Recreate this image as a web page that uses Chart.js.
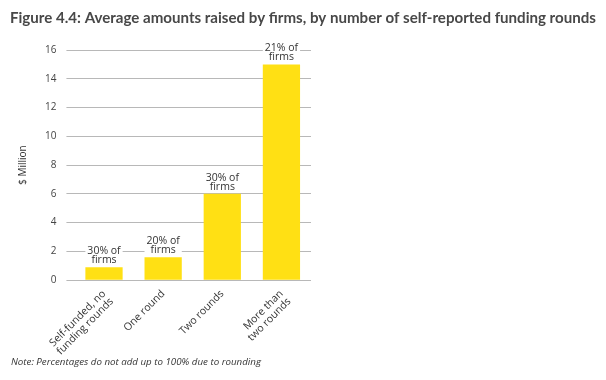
<!DOCTYPE html>
<html>
<head>
<meta charset="utf-8">
<script src="https://cdn.jsdelivr.net/npm/chart.js@4.4.0/dist/chart.umd.min.js"></script>
<style>
	html, body { margin: 0; padding: 0; background: #fff; }
	#wrap { width: 606px; height: 380px; position: relative; }
</style>
</head>
<body>
<div id="wrap"><canvas id="myChart"></canvas></div>
<script>
const categories = [
	['Self-funded, no', 'funding rounds'],
	'One round',
	'Two rounds',
	['More than', 'two rounds']
];
const amounts = [0.9, 1.6, 6, 15];
const shareLabels = ['30% of', '20% of', '30% of', '21% of'];
const yTicks = [0, 2, 4, 6, 8, 10, 12, 14, 16];
const titleText = 'Figure 4.4: Average amounts raised by firms, by number of self-reported funding rounds';
const noteText = 'Note: Percentages do not add up to 100% due to rounding';

const FONT = '"Open Sans", sans-serif';

// fit a line of text into a target width by adjusting the font size
function fitText(ctx, text, style, family, startSize, targetWidth) {
	ctx.font = style + ' ' + startSize + 'px ' + family;
	const w = ctx.measureText(text).width;
	const size = startSize * targetWidth / w;
	ctx.font = style + ' ' + size.toFixed(2) + 'px ' + family;
}

// title and footnote are drawn by hand so they can span the full canvas width
const headerFooterPlugin = {
	id: 'headerFooter',
	afterDraw(chart) {
		const ctx = chart.ctx;
		ctx.save();
		ctx.textAlign = 'left';
		ctx.textBaseline = 'middle';
		fitText(ctx, titleText, 'bold', 'Lato, sans-serif', 14, 586);
		ctx.fillStyle = '#484848';
		ctx.fillText(titleText, 10, 18);
		fitText(ctx, noteText, 'italic', FONT, 9, 250);
		ctx.fillStyle = '#333';
		ctx.fillText(noteText, 11, 362);
		ctx.restore();
	}
};

// draws the "xx% of / firms" text over each bar, on a white patch
const shareLabelPlugin = {
	id: 'shareLabels',
	afterDatasetsDraw(chart) {
		const ctx = chart.ctx;
		const meta = chart.getDatasetMeta(0);
		ctx.save();
		ctx.font = '10.5px ' + FONT;
		ctx.textAlign = 'center';
		ctx.textBaseline = 'alphabetic';
		meta.data.forEach((bar, i) => {
			const lines = [shareLabels[i], 'firms'];
			const w = ctx.measureText(lines[0]).width + 4;
			const x = bar.x;
			const bottom = bar.y - 1;
			ctx.fillStyle = '#fff';
			ctx.fillRect(x - w / 2, bottom - 22, w, 21);
			ctx.fillStyle = '#333';
			ctx.fillText(lines[0], x, bottom - 12);
			ctx.fillText(lines[1], x, bottom - 3);
		});
		ctx.restore();
	}
};

const config = {
	type: 'bar',
	data: {
		labels: categories,
		datasets: [{
			data: amounts,
			backgroundColor: '#ffe014',
			barPercentage: 0.63,
			categoryPercentage: 1
		}]
	},
	options: {
		responsive: true,
		maintainAspectRatio: false,
		animation: false,
		layout: {
			padding: { left: 13, right: 295, top: 50, bottom: 15 }
		},
		plugins: {
			legend: { display: false },
			tooltip: { enabled: false },
			title: { display: false }
		},
		scales: {
			x: {
				grid: { display: false, drawTicks: false },
				border: { display: false },
				ticks: {
					color: '#333',
					font: { family: FONT, size: 10.5, lineHeight: 1.05 },
					minRotation: 45,
					maxRotation: 45,
					padding: 8
				}
			},
			y: {
				min: 0,
				max: 16,
				afterBuildTicks(axis) {
					axis.ticks = yTicks.map(v => ({ value: v }));
				},
				grid: { color: '#b8b8b8', drawTicks: true, tickLength: 8, tickColor: '#b8b8b8', lineWidth: 1 },
				border: { display: false },
				ticks: {
					color: '#444',
					font: { family: FONT, size: 10 },
					padding: 10
				},
				title: {
					display: true,
					text: '$ Million',
					color: '#333',
					font: { family: FONT, size: 10 },
					padding: { bottom: 6 }
				}
			}
		}
	},
	plugins: [shareLabelPlugin, headerFooterPlugin]
};

const chartt = new Chart(document.getElementById('myChart'), config);
</script>
</body>
</html>
